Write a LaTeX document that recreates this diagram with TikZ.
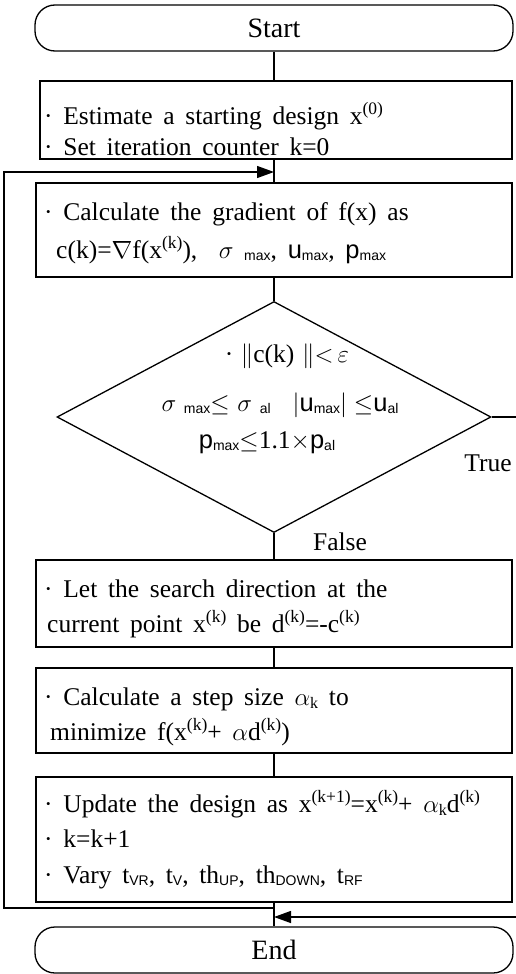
\documentclass[tikz,border=0pt]{standalone}
\usepackage{fontspec}
\setmainfont{Liberation Serif}
\newfontfamily\sfx{Liberation Sans}
\usepackage{amsmath}
\usetikzlibrary{shapes.geometric,arrows.meta}
\newcommand\lsub[1]{\raisebox{-2.5pt}{\fontsize{14}{14}\sfx #1}}
\newcommand\rsub[1]{\raisebox{-3pt}{\fontsize{16}{16}\selectfont #1}}
\newcommand\sups[1]{\raisebox{9.5pt}{\fontsize{17.5}{17.5}\selectfont #1}}
\tikzset{
  frame/.style={draw, line width=1.3pt, inner sep=0pt},
  term/.style={frame, rounded corners=20pt, minimum width=478pt, minimum height=46pt, font=\fontsize{28}{32}\selectfont},
  boxnode/.style={frame, minimum width=476pt},
  dia/.style={frame, diamond, minimum width=434pt, minimum height=231pt},
  link/.style={line width=1.3pt},
  arr/.style={link, -{Triangle[length=17pt,width=12pt]}},
  ln/.style={anchor=base west, inner sep=0pt, font=\fontsize{25.5}{30}\selectfont, execute at begin node={\spaceskip=0.42em\relax}},
  cl/.style={ln, anchor=base, execute at begin node={\spaceskip=0.3em\relax}},
  lbl/.style={inner sep=0pt, font=\fontsize{25.5}{30}\selectfont}
}
\begin{document}
\begin{tikzpicture}[x=1pt,y=-1pt]
\useasboundingbox (0,0) rectangle (516,974);
% shapes
\node[term] (start) at (274,28) {Start};
\node[boxnode, minimum width=472pt, minimum height=78pt] (b1) at (276,120) {};
\node[boxnode, minimum height=94pt] (b2) at (274,230) {};
\node[dia] (cond) at (274,417) {};
\node[boxnode, minimum height=87pt] (b3) at (274,603.5) {};
\node[boxnode, minimum height=85pt] (b4) at (274,710.5) {};
\node[boxnode, minimum height=125pt] (b5) at (274,839.5) {};
\node[term] (end) at (274,950) {End};
% texts
\node[ln] (t11) at (44,124) {· Estimate a starting design x\sups{(0)}};
\node[ln] (t12) at (44,155) {· Set iteration counter k=0};
\node[ln] (t21) at (44,220) {· Calculate the gradient of f(x) as};
\node[ln] (t22) at (56,258) {c(k)=$\nabla$f(x\sups{(k)}), \ $\sigma$\lsub{ max}, {\sfx u}\lsub{max}, {\sfx p}\lsub{max}};
\node[cl] (c1) at (287,362) {· $\|$c(k) $\|$$<$\,$\varepsilon$};
\node[cl] (c2) at (280,411) {$\sigma$\lsub{ max}$\leq$ $\sigma$\lsub{ al}\hspace{22pt}$|${\sfx u}\lsub{max}$|\leq${\sfx u}\lsub{al}};
\node[cl] (c3) at (267,448) {{\sfx p}\lsub{max}$\leq$1.1$\times${\sfx p}\lsub{al}};
\node[ln] (t31) at (44,597) {· Let the search direction at the};
\node[ln] (t32) at (47,632) {current point x\sups{(k)} be d\sups{(k)}=-c\sups{(k)}};
\node[ln] (t41) at (44,705) {· Calculate a step size $\alpha$\rsub{k} to};
\node[ln] (t42) at (50,740) {minimize f(x\sups{(k)}+ $\alpha$d\sups{(k)})};
\node[ln] (t51) at (44,812) {· Update the design as x\sups{(k+1)}=x\sups{(k)}+ $\alpha$\rsub{k}d\sups{(k)}};
\node[ln] (t52) at (44,847) {· k=k+1};
\node[ln] (t53) at (44,883) {· Vary t\lsub{VR}, t\lsub{V}, th\lsub{UP}, th\lsub{DOWN}, t\lsub{RF}};
\node[lbl] (ltrue) at (488,463) {True};
\node[lbl] (lfalse) at (340,542) {False};
% connectors
\draw[link] (start.south) -- (start.south |- b1.north);
\draw[link] (b1.south -| b2.north) -- (b2.north);
\draw[link] (b2.south) -- (cond.north);
\draw[link] (cond.south) -- (b3.north);
\draw[link] (b3) -- (b4);
\draw[link] (b4) -- (b5);
\draw[link] (b5) -- (end);
\coordinate (loopA) at (274,908);
\coordinate (loopL) at (4,908);
\coordinate (loopT) at (4,172);
\coordinate (loopE) at (274,172);
\draw[arr] (loopA) -- (loopL) -- (loopT) -- (loopE);
\coordinate (tOut) at (540,417);
\coordinate (tDown) at (540,917);
\coordinate (tIn) at (274,917);
\draw[arr] (cond.east) -- (tOut) -- (tDown) -- (tIn);
\end{tikzpicture}
\end{document}
